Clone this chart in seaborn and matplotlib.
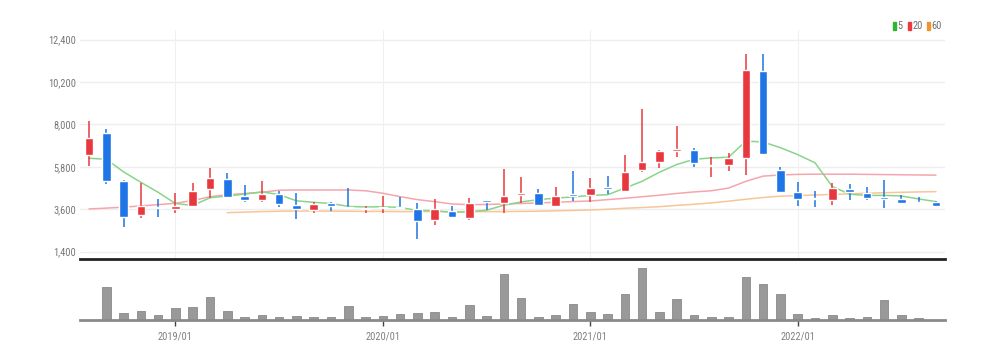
import numpy as np
import pandas as pd
import matplotlib
matplotlib.use("Agg")
import matplotlib.pyplot as plt
import seaborn as sns
from matplotlib.patches import Rectangle
from matplotlib import font_manager as fm

months = ["2018/08", "2018/09", "2018/10", "2018/11", "2018/12",
          "2019/01", "2019/02", "2019/03", "2019/04", "2019/05", "2019/06",
          "2019/07", "2019/08", "2019/09", "2019/10", "2019/11", "2019/12",
          "2020/01", "2020/02", "2020/03", "2020/04", "2020/05", "2020/06",
          "2020/07", "2020/08", "2020/09", "2020/10", "2020/11", "2020/12",
          "2021/01", "2021/02", "2021/03", "2021/04", "2021/05", "2021/06",
          "2021/07", "2021/08", "2021/09", "2021/10", "2021/11", "2021/12",
          "2022/01", "2022/02", "2022/03", "2022/04", "2022/05", "2022/06",
          "2022/07", "2022/08", "2022/09"]

opens = [6420, 7550, 5070, 3300, 3700, 3600, 3770, 4640, 5160, 4300,
         4080, 4400, 3820, 3550, 3910, 3720, 3620, 3640, 3700, 3610,
         3050, 3530, 3170, 4070, 3910, 4350, 4430, 3780, 4380, 4350,
         4760, 4570, 5640, 6070, 6600, 6680, 5840, 5920, 6250, 10780,
         5640, 4510, 4190, 4080, 4640, 4460, 4240, 4120, 3995, 3965]
closes = [7320, 5070, 3220, 3770, 3640, 3790, 4570, 5210, 4255, 4080,
          4400, 3860, 3600, 3860, 3770, 3660, 3690, 3700, 3640, 3000,
          3620, 3220, 3910, 4000, 4310, 4460, 3820, 4310, 4290, 4710,
          4640, 5550, 6070, 6640, 6710, 5990, 5910, 6250, 10830, 6470,
          4510, 4120, 4120, 4690, 4480, 4170, 4150, 3945, 3930, 3790]
highs = [8200, 7750, 5100, 4950, 4135, 4430, 4980, 5760, 5500, 4860,
         5070, 4566, 4430, 3995, 3995, 4720, 3772, 4290, 4254, 3943,
         4120, 3772, 4203, 4070, 5677, 5293, 4639, 4773, 5588, 5240,
         5330, 6419, 8790, 6650, 7924, 6765, 6300, 6538, 11660, 11660,
         5813, 5033, 4566, 4950, 4900, 4773, 5121, 4340, 4254, 4047]
lows = [5860, 4914, 2700, 3133, 3217, 3393, 3735, 4203, 4250, 3995,
        3980, 3735, 3082, 3424, 3528, 3650, 3424, 3393, 3620, 2044,
        2786, 3210, 3045, 3564, 3424, 3912, 3820, 3705, 4030, 3995,
        4395, 4560, 5552, 5728, 6330, 5780, 5260, 5588, 5380, 6450,
        4462, 3772, 3704, 3824, 4083, 4083, 3652, 3876, 3876, 3704]

volumes = [0, 335000, 73000, 93000, 53000, 120000, 126000, 233000, 86000, 26000,
           53000, 27000, 37000, 30000, 30000, 143000, 27000, 43000, 63000, 67000,
           85000, 35000, 150000, 40000, 465000, 220000, 32000, 55000, 165000, 83000,
           60000, 263000, 525000, 80000, 215000, 52000, 32000, 32000, 430000, 360000,
           265000, 65000, 22000, 55000, 22000, 35000, 198000, 50000, 17000, 0]

ma5 = [6247, 6195, 5540, 5000, 4480, 3898, 3798, 4196, 4293, 4381,
       4503, 4361, 4039, 3960, 3898, 3750, 3716, 3736, 3692, 3538,
       3530, 3436, 3478, 3550, 3812, 3980, 4100, 4180, 4238, 4318,
       4354, 4700, 5052, 5522, 5922, 6192, 6264, 6300, 7138, 7090,
       6794, 6436, 6010, 4782, 4384, 4316, 4322, 4287, 4135, 3997]
ma20 = [3616, 3660, 3710, 3772, 3840, 3912, 4050, 4250, 4350, 4420,
        4480, 4590, 4600, 4600, 4600, 4600, 4560, 4431, 4254, 4100,
        3995, 3876, 3840, 3850, 3876, 3900, 3930, 3960, 4000, 4030,
        4100, 4171, 4250, 4330, 4420, 4500, 4560, 4700, 5050, 5320,
        5380, 5410, 5420, 5420, 5420, 5410, 5400, 5390, 5380, 5370]
ma60 = [np.nan] * 8 + [3424, 3450, 3480, 3500, 3510, 3510, 3500, 3500, 3490, 3490,
                       3480, 3480, 3476, 3476, 3476, 3476, 3480, 3490, 3500, 3520,
                       3540, 3564, 3600, 3652, 3690, 3735, 3800, 3860, 3930, 4020,
                       4120, 4210, 4280, 4310, 4340, 4370, 4400, 4430, 4460, 4480,
                       4500, 4514]

y_ticks = [1400, 3600, 5800, 8000, 10200, 12400]
x_tick_labels = ["2019/01", "2020/01", "2021/01", "2022/01"]
legend_labels = ["5", "20", "60"]

UP = "#e8383d"
DOWN = "#1f74e6"
MA_COLORS = ["#8ad48a", "#f4a6ac", "#f6c697"]
LEG_COLORS = ["#2fb52f", "#ee3a3f", "#f0952e"]

sns.set_style("white")
available = set(f.name for f in fm.fontManager.ttflist)
narrow = [n for n in ["Roboto Condensed", "Archivo Narrow", "Asap Condensed",
                      "Barlow Semi Condensed", "Liberation Sans Narrow"] if n in available]
plt.rcParams["font.family"] = narrow[:1] + ["DejaVu Sans"]

W, H = 998, 359
fig = plt.figure(figsize=(W / 100, H / 100), dpi=100)

def frac(x0, y0, x1, y1):
    return [x0 / W, (H - y1) / H, (x1 - x0) / W, (y1 - y0) / H]

ax = fig.add_axes(frac(80, 30, 945, 259))
axv = fig.add_axes(frac(80, 262, 945, 320))

df = pd.DataFrame({"month": months, "open": opens, "close": closes,
                   "high": highs, "low": lows, "volume": volumes,
                   "ma5": ma5, "ma20": ma20, "ma60": ma60})
df["x"] = np.arange(len(df))
up = df["close"] >= df["open"]
colors = np.where(up, UP, DOWN)

# gridlines
for v in y_ticks:
    ax.axhline(v, color="#eeeeee", lw=1.0, zorder=0)
tick_pos = [months.index(m) for m in x_tick_labels]
for p in tick_pos:
    ax.axvline(p, color="#f0f0f0", lw=0.8, zorder=0)

# moving averages
for col, c in zip(["ma60", "ma20", "ma5"], [MA_COLORS[2], MA_COLORS[1], MA_COLORS[0]]):
    sns.lineplot(data=df, x="x", y=col, ax=ax, color=c, lw=1.1, zorder=2)

# candles
ax.vlines(df["x"], df["low"], df["high"], colors=colors, lw=1.1, zorder=3)
body_bottom = np.minimum(df["open"], df["close"])
body_h = np.maximum(np.abs(df["close"] - df["open"]), 70)
ax.bar(df["x"], body_h, bottom=body_bottom, width=0.5, color=colors, zorder=4)

ax.set_xlim(-0.52, 49.52)
ax.set_ylim(1020, 12900)
ax.set_yticks(y_ticks)
ax.set_yticklabels([f"{v:,}" for v in y_ticks], color="#777777", fontsize=7.5)
ax.tick_params(axis="y", length=0, pad=3)
ax.set_xticks([])
ax.set_xlabel("")
ax.set_ylabel("")
for s in ["top", "right", "left"]:
    ax.spines[s].set_visible(False)
ax.spines["bottom"].set_color("#222222")
ax.spines["bottom"].set_linewidth(2.0)

# volume
sns.barplot(data=df, x="x", y="volume", ax=axv, native_scale=True, width=0.5,
            color="#999999", saturation=1, errorbar=None, edgecolor="#8a8a8a",
            linewidth=0.6)
axv.set_xlim(-0.52, 49.52)
axv.set_ylim(0, 580000)
axv.set_yticks([])
axv.set_xticks(tick_pos)
axv.set_xticklabels(x_tick_labels, color="#808080", fontsize=7.5)
axv.tick_params(axis="x", bottom=True, direction="out", length=4, width=1,
                color="#444444", pad=4)
axv.set_xlabel("")
axv.set_ylabel("")
for s in ["top", "right", "left"]:
    axv.spines[s].set_visible(False)
axv.spines["bottom"].set_color("#8a8a8a")
axv.spines["bottom"].set_linewidth(2.0)

# legend
leg_x = [893, 908, 927]
for lx, lab, c in zip(leg_x, legend_labels, LEG_COLORS):
    fig.patches.append(Rectangle((lx / W, (H - 30) / H), 3.2 / W, 7.5 / H,
                                 transform=fig.transFigure, color=c))
    fig.text((lx + 4.5) / W, (H - 26.3) / H, lab, fontsize=7.5, color="#707070",
             va="center", ha="left")

fig.savefig("out.png", dpi=100)
